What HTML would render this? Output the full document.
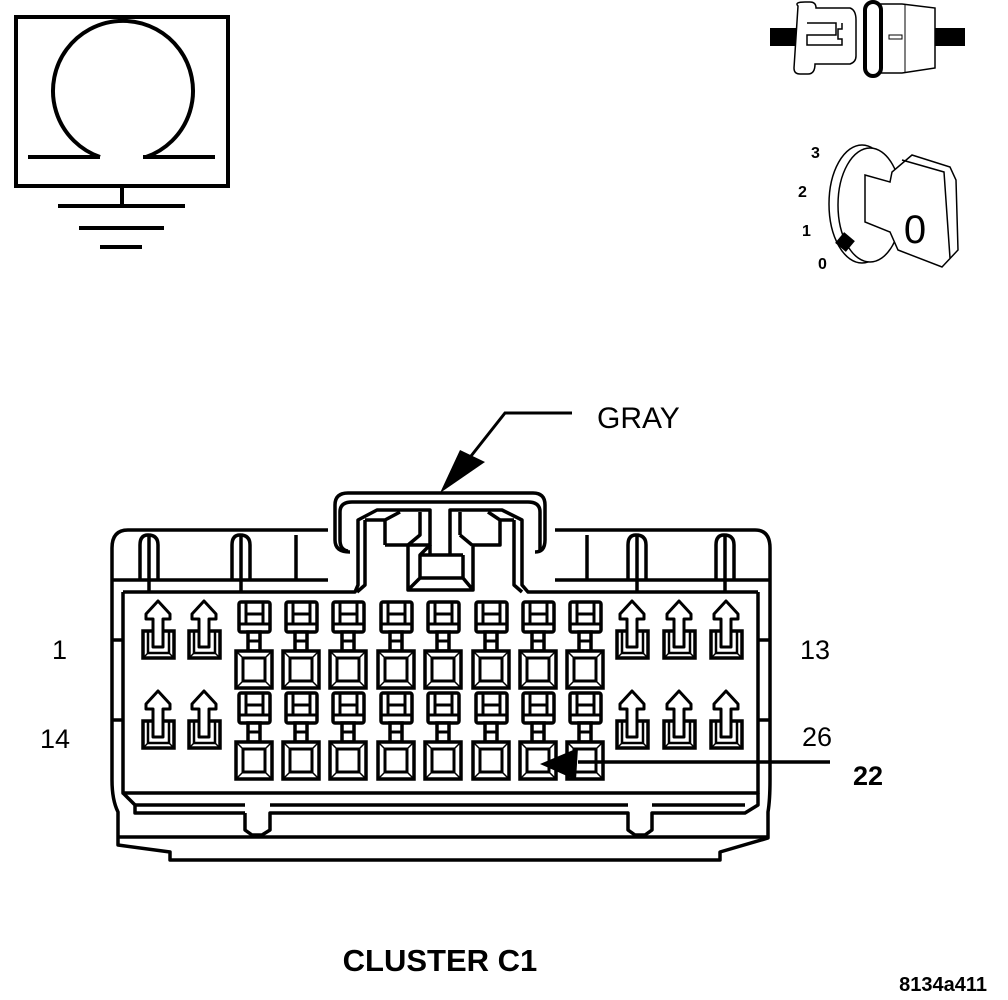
<!DOCTYPE html>
<html><head><meta charset="utf-8"><style>
html,body{margin:0;padding:0;background:#fff;}
svg{display:block;}
text{font-family:"Liberation Sans",sans-serif;fill:#000;}
</style></head><body>
<svg width="1008" height="1000" viewBox="0 0 1008 1000" xmlns="http://www.w3.org/2000/svg">
<defs>
<g id="sq">
  <rect x="-18" y="0" width="36" height="37" fill="#fff" stroke="#000" stroke-width="3.5"/>
  <rect x="-11" y="7" width="22" height="23" fill="none" stroke="#000" stroke-width="3"/>
  <path d="M-18 0L-11 7M18 0L11 7M-18 37L-11 30M18 37L11 30" stroke="#000" stroke-width="1.5"/>
</g>
<g id="hp">
  <rect x="-15" y="0" width="31" height="30" rx="2" fill="#fff" stroke="#000" stroke-width="3.5"/>
  <path d="M-8 0V22M9 0V22M-8 12H9M-15 22H16" stroke="#000" stroke-width="3" fill="none"/>
  <rect x="-6" y="30" width="12" height="19" fill="#fff" stroke="#000" stroke-width="3.5"/>
  <path d="M-6 39H6" stroke="#000" stroke-width="3"/>
</g>
<g id="ar">
  <rect x="-15" y="28" width="31" height="27" fill="#fff" stroke="#000" stroke-width="3.5"/>
  <path d="M-10 28V50H11V28" fill="none" stroke="#000" stroke-width="2.5"/>
  <path d="M-10 50L-15 55M11 50L16 55" fill="none" stroke="#000" stroke-width="1.5"/>
  <path d="M0 -2L12 11V16H5V44H-5V16H-12V11Z" fill="#fff" stroke="#000" stroke-width="3" stroke-linejoin="round"/>
</g>
</defs>

<!-- ground symbol -->
<rect x="16" y="17" width="212" height="169" fill="none" stroke="#000" stroke-width="4"/>
<path d="M100 157A70 70 0 1 1 146 157" fill="none" stroke="#000" stroke-width="4"/>
<path d="M28 157H100M143 157H215M122 186V206M58 206H185M79 228H164M100 247H142" stroke="#000" stroke-width="4" fill="none"/>

<!-- top right connector icon -->
<rect x="770" y="28" width="30" height="18" fill="#000"/>
<rect x="935" y="28" width="30" height="18" fill="#000"/>
<path d="M798 6Q794 2 805 2H810Q816 2 816 8H850Q856 10 856 20V56Q856 62 850 64H815Q815 74 808 74H800Q794 74 794 68Z" fill="#fff" stroke="#000" stroke-width="1.5"/>
<path d="M807 23H836V35H807V45H842V39H838V29H842V23" fill="none" stroke="#000" stroke-width="1.5"/>
<path d="M870 4H902L935 8V68L902 73H872Z" fill="#fff" stroke="#000" stroke-width="1.5"/>
<path d="M905 4V73" stroke="#000" stroke-width="1"/>
<rect x="865" y="2" width="16" height="74" rx="8" fill="#fff" stroke="#000" stroke-width="4"/>
<rect x="889" y="35" width="13" height="4" fill="none" stroke="#000" stroke-width="1"/>

<!-- key icon -->
<ellipse cx="862" cy="204" rx="33" ry="59" fill="#fff" stroke="#000" stroke-width="1.5"/>
<ellipse cx="870" cy="205" rx="32" ry="57" fill="#fff" stroke="#000" stroke-width="1.5"/>
<path d="M865 175L890 182L892 172L912 155L950 167L956 180L958 250L942 267L898 250L890 232L865 222Z" fill="#fff" stroke="#000" stroke-width="1.5"/>
<path d="M902 160L944 172L950 258" fill="none" stroke="#000" stroke-width="1.5"/>
<text x="915" y="243" font-size="40" text-anchor="middle">0</text>
<rect x="838" y="235" width="14" height="14" fill="#000" transform="rotate(40 845 242)"/>
<text x="811" y="158" font-size="16" font-weight="bold">3</text>
<text x="798" y="197" font-size="16" font-weight="bold">2</text>
<text x="802" y="236" font-size="16" font-weight="bold">1</text>
<text x="818" y="269" font-size="16" font-weight="bold">0</text>

<!-- GRAY leader -->
<text x="597" y="428" font-size="30">GRAY</text>
<path d="M572 413H505L460 470" fill="none" stroke="#000" stroke-width="3"/>
<path d="M440 493L460 450L485 462Z" fill="#000"/>

<!-- connector body -->
<g fill="none" stroke="#000" stroke-width="3.5" stroke-linejoin="round">
<path d="M328 530H128Q112 530 112 548V780Q112 800 118 812V845L170 852V860H720V852L768 838V812Q770 800 770 780V548Q770 530 755 530H555"/>
<path d="M350 552Q335 552 335 540V505Q335 493 348 493H533Q545 493 545 505V540Q545 552 535 552"/>
<path d="M348 551Q340 550 340 540V512Q340 502 352 502H528Q540 502 540 512V550"/>
<path d="M123 592H355L358 585V520L377 510H430V545H408M450 545V510H502L522 520V585L528 592H758"/>
<path d="M365 520V585L357 592M365 520H385L400 512M385 520V545M385 545H408L420 535V512"/>
<path d="M514 520V585L522 592M514 520H500L488 512M500 520V545H472M460 535L472 545M460 512V535"/>
<path d="M408 545V590H473V545M430 545V555H420L430 545M450 545V555H463M420 555H463M420 555V578M463 555V578M420 578H463M408 590L420 578M473 590L463 578"/>
<path d="M123 592V793H758V592"/>
<path d="M112 580H328M555 580H770"/>
<path d="M140 580V545Q140 535 148 535Q158 535 158 545V580M232 580V545Q232 535 240 535Q250 535 250 545V580M296 580V535M628 580V545Q628 535 636 535Q646 535 646 545V580M716 580V545Q716 535 724 535Q734 535 734 545V580M587 580V535"/>
<path d="M149 592V535M241 592V535M637 592V535M725 592V535"/>
<path d="M123 793L135 805V813H245M245 813V830L252 835H262L270 830V813H628V830L635 835H645L652 830V813H745L758 805V793"/>
<path d="M135 805H245M270 805H628M652 805H745"/>
<path d="M118 837H768"/>
<path d="M112 640H123M112 720H123M758 640H770M758 720H770"/>
</g>

<!-- pins -->
<g>
<use href="#hp" x="254" y="602"/><use href="#hp" x="301" y="602"/><use href="#hp" x="348" y="602"/><use href="#hp" x="396" y="602"/>
<use href="#hp" x="443" y="602"/><use href="#hp" x="491" y="602"/><use href="#hp" x="538" y="602"/><use href="#hp" x="585" y="602"/>
<use href="#sq" x="254" y="651"/><use href="#sq" x="301" y="651"/><use href="#sq" x="348" y="651"/><use href="#sq" x="396" y="651"/>
<use href="#sq" x="443" y="651"/><use href="#sq" x="491" y="651"/><use href="#sq" x="538" y="651"/><use href="#sq" x="585" y="651"/>
<use href="#hp" x="254" y="693"/><use href="#hp" x="301" y="693"/><use href="#hp" x="348" y="693"/><use href="#hp" x="396" y="693"/>
<use href="#hp" x="443" y="693"/><use href="#hp" x="491" y="693"/><use href="#hp" x="538" y="693"/><use href="#hp" x="585" y="693"/>
<use href="#sq" x="254" y="742"/><use href="#sq" x="301" y="742"/><use href="#sq" x="348" y="742"/><use href="#sq" x="396" y="742"/>
<use href="#sq" x="443" y="742"/><use href="#sq" x="491" y="742"/><use href="#sq" x="538" y="742"/><use href="#sq" x="585" y="742"/>
<use href="#ar" x="158" y="603"/><use href="#ar" x="204" y="603"/>
<use href="#ar" x="632" y="603"/><use href="#ar" x="679" y="603"/><use href="#ar" x="726" y="603"/>
<use href="#ar" x="158" y="693"/><use href="#ar" x="204" y="693"/>
<use href="#ar" x="632" y="693"/><use href="#ar" x="679" y="693"/><use href="#ar" x="726" y="693"/>
</g>

<!-- pin 22 leader -->
<path d="M830 762H578" stroke="#000" stroke-width="3.5"/>
<path d="M540 764L578 748L576 780Z" fill="#000"/>

<text x="52" y="659" font-size="27">1</text>
<text x="800" y="659" font-size="27">13</text>
<text x="40" y="748" font-size="27">14</text>
<text x="802" y="746" font-size="27">26</text>
<text x="853" y="785" font-size="27" font-weight="bold">22</text>
<text x="440" y="971" font-size="31" font-weight="bold" text-anchor="middle">CLUSTER C1</text>
<text x="987" y="991" font-size="20" font-weight="bold" text-anchor="end">8134a411</text>
</svg>
</body></html>
